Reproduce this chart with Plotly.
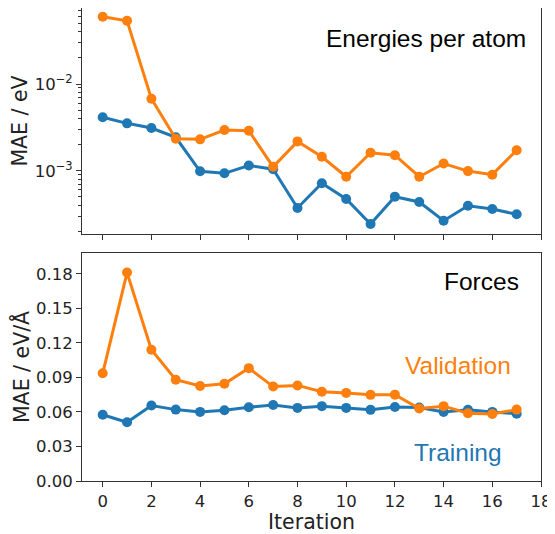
import plotly.graph_objects as go
from plotly.subplots import make_subplots

iterations = list(range(18))
energy_training = [0.00413, 0.00352, 0.00311, 0.00243, 0.000984, 0.000933, 0.00115, 0.00104,
                   0.000372, 0.000716, 0.000472, 0.000243, 0.000502, 0.000436, 0.000265,
                   0.000394, 0.000361, 0.000314]
energy_validation = [0.0597, 0.0537, 0.00677, 0.00234, 0.00230, 0.00295, 0.00289, 0.00111,
                     0.00218, 0.00145, 0.000853, 0.00161, 0.00151, 0.000853, 0.00121,
                     0.00099, 0.00090, 0.00172]
force_training = [0.0575, 0.0510, 0.0655, 0.0620, 0.0600, 0.0615, 0.0640, 0.0660,
                  0.0635, 0.0650, 0.0635, 0.0618, 0.0643, 0.0638, 0.0600, 0.0618,
                  0.0600, 0.0585]
force_validation = [0.0935, 0.1810, 0.1140, 0.0880, 0.0825, 0.0845, 0.0980, 0.0820,
                    0.0830, 0.0775, 0.0765, 0.0748, 0.0750, 0.0630, 0.0650, 0.0588,
                    0.0582, 0.0620]

x_ticks = list(range(0, 19, 2))
log_ticks = [1e-3, 1e-2]
log_ticktext = ["10<sup>\u22123</sup>", "10<sup>\u22122</sup>"]
force_ticks = [0.0, 0.03, 0.06, 0.09, 0.12, 0.15, 0.18]
force_ticktext = ["0.00", "0.03", "0.06", "0.09", "0.12", "0.15", "0.18"]
minor_log = [m * 10.0 ** e for e in (-4, -3, -2) for m in range(2, 10)]

BLUE = "#1f77b4"
ORANGE = "#ff7f0e"
FONT = "DejaVu Sans"
NOTE_FONT = "Liberation Sans, Arial"

fig = make_subplots(rows=2, cols=1, shared_xaxes=False, vertical_spacing=0.04)

def add(x, y, color, row):
    fig.add_trace(go.Scatter(x=x, y=y, mode="lines+markers",
                             line=dict(color=color, width=3),
                             marker=dict(color=color, size=10),
                             showlegend=False, cliponaxis=False), row=row, col=1)

add(iterations, energy_training, BLUE, 1)
add(iterations, energy_validation, ORANGE, 1)
add(iterations, force_training, BLUE, 2)
add(iterations, force_validation, ORANGE, 2)

axis_common = dict(showline=True, linecolor="#333333", linewidth=1, mirror=True,
                   ticks="outside", ticklen=5, tickwidth=1, tickcolor="#333333",
                   showgrid=False, zeroline=False, automargin=False,
                   tickfont=dict(family=FONT, size=16.5, color="#222222"))

fig.update_xaxes(range=[-0.85, 18.0], tickvals=x_ticks, **axis_common)
fig.update_xaxes(showticklabels=False, row=1, col=1)
fig.update_xaxes(title=dict(text="Iteration", font=dict(family=FONT, size=20.5, color="#222222"),
                            standoff=2), row=2, col=1)

fig.update_yaxes(type="log", range=[-3.73, -1.123], tickvals=log_ticks, ticktext=log_ticktext,
                 minor=dict(ticks="outside", ticklen=3, tickwidth=1, tickcolor="#333333",
                            tickmode="array", tickvals=minor_log, showgrid=False),
                 title=dict(text="MAE / eV", font=dict(family=FONT, size=20.5, color="#222222"),
                            standoff=6),
                 row=1, col=1, **axis_common)
fig.update_yaxes(range=[0, 0.198], tickvals=force_ticks, ticktext=force_ticktext,
                 title=dict(text="MAE / eV/\u00c5", font=dict(family=FONT, size=20.5, color="#222222"),
                            standoff=6),
                 row=2, col=1, **axis_common)

# page body has an 8px margin; figure sized so the plot frame lands where the reference has it
fig.update_layout(
    width=547, height=526,
    margin=dict(l=74, r=14, t=0, b=53),
    plot_bgcolor="white", paper_bgcolor="white",
    font=dict(family=FONT),
)
# top panel frame: 8..234 page px, bottom panel: 253..481 (plot area 8..481 => 473 px)
fig.layout.yaxis.domain = [(473 - 226) / 473, 1.0]
fig.layout.yaxis2.domain = [0.0, 228 / 473]

def note(text, x, y, color, xref, yref):
    fig.add_annotation(text=text, x=x, y=y, xref=xref, yref=yref, xanchor="right",
                       yanchor="middle", showarrow=False,
                       font=dict(family=NOTE_FONT, size=24.5, color=color))

note("Energies per atom", 0.972, 0.865, "black", "x domain", "y domain")
note("Forces", 0.957, 0.875, "black", "x2 domain", "y2 domain")
note("Validation", 0.939, 0.507, ORANGE, "x2 domain", "y2 domain")
note("Training", 0.919, 0.125, BLUE, "x2 domain", "y2 domain")

fig.write_html("out.html")
